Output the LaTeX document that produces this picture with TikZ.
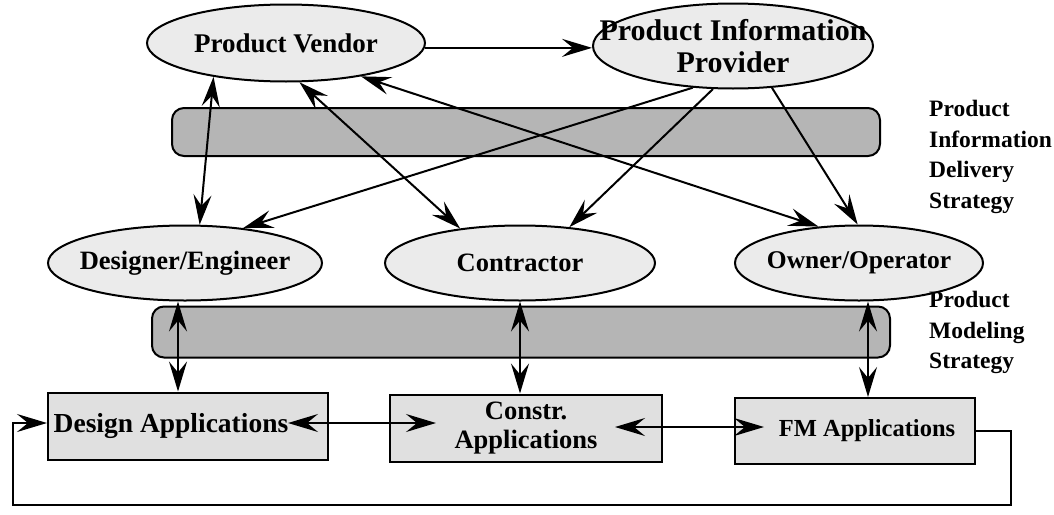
\documentclass[tikz,border=0pt]{standalone}
\usepackage{fontspec}
\setmainfont{Liberation Serif}
\usetikzlibrary{arrows.meta,shapes.geometric}

\newcommand{\txt}[2]{\fontsize{#1}{#2}\selectfont}

\begin{document}
\begin{tikzpicture}[x=1pt,y=-1pt,
  every node/.style={font=\bfseries\txt{26}{30}},
  actor/.style={ellipse, draw, line width=2pt, fill=gray!16, inner xsep=-60pt, inner ysep=-15pt},
  band/.style={draw, line width=2pt, rounded corners=12pt, fill=gray!58},
  appbox/.style={draw, line width=2pt, fill=gray!24, inner sep=0pt},
  lab/.style={align=left, anchor=north west, inner sep=0pt, font=\bfseries\txt{23.5}{30.5}},
  head/.tip={Stealth[length=30pt,width=18pt,inset=11pt]},
  link/.style={line width=2pt, -head},
  dlink/.style={line width=2pt, head-head},
]
\useasboundingbox (0,0) rectangle (1054,514);

% strategy bands
\node[band, minimum width=708pt, minimum height=48pt] (pidband) at (526,132) {};
\node[band, minimum width=738pt, minimum height=51pt] (pmband) at (521,332) {};

% stakeholders
\node[actor, minimum width=278pt, minimum height=77pt, font=\bfseries\txt{27}{30}] (pv) at (286,43) {Product Vendor};
\node[actor, minimum width=280pt, minimum height=85pt, align=center, font=\bfseries\txt{30}{32}] (pip) at (733,46) {Product Information\\Provider};
\node[actor, minimum width=274pt, minimum height=75pt, font=\bfseries\txt{26.5}{30}] (de) at (185,263) {Designer/Engineer};
\node[actor, minimum width=270pt, minimum height=75pt, font=\bfseries\txt{26.5}{30}] (co) at (520,263) {Contractor};
\node[actor, minimum width=248pt, minimum height=75pt, font=\bfseries\txt{25.5}{30}] (oo) at (859,263) {Owner/Operator};

% applications
\node[appbox, minimum width=280pt, minimum height=67pt, font=\bfseries\txt{27.5}{30}] (da) at (188,426) {Design Applications\hspace*{34pt}};
\node[appbox, minimum width=272pt, minimum height=67pt, align=center, font=\bfseries\txt{26.5}{29}] (ca) at (526,428) {Constr.\\Applications};
\node[appbox, minimum width=240pt, minimum height=66pt, font=\bfseries\txt{24.5}{30}] (fm) at (855,431) {\hspace*{24pt}FM Applications};

% strategy labels
\node[lab] (pidlab) at (929,100) {Product\\Information\\Delivery\\Strategy};
\node[lab] (pmlab) at (929,291) {Product\\Modeling\\Strategy};

% information delivery links
\draw[link] (pv.358) -- (pv.358 -| pip.west);
\draw[dlink] (pv.205) -- (de.69);
\draw[dlink] (pv.289) -- (co.150);
\draw[dlink] (pv.336) -- (oo.138);
\draw[link] (pip.226) -- (de.31);
\draw[link] (pip.245) -- (co.36);
\draw[link] (pip.313) -- (oo.92);

% product modeling links
\draw[dlink] ([xshift=-10pt]da.north) -- ([xshift=-10pt]da.north |- de.south);
\draw[dlink] ([xshift=-6pt]ca.north) -- ([xshift=-6pt]ca.north |- co.south);
\draw[dlink] ([xshift=13pt]fm.north) -- ([xshift=13pt]fm.north |- oo.south);

% application exchange
\draw[dlink, shorten <=-41pt, shorten >=-47pt] ([yshift=3pt]da.east) -- ([yshift=3pt]da.east -| ca.west);
\draw[dlink, shorten <=-48pt, shorten >=-30pt] ([yshift=1pt]ca.east) -- ([yshift=1pt]ca.east -| fm.west);

% feedback loop
\coordinate (loopR) at (1011,505);
\coordinate (loopL) at (13,505);
\draw[link] (fm.east) -| (loopR) -- (loopL) |- ([yshift=3pt]da.west);
\end{tikzpicture}
\end{document}
